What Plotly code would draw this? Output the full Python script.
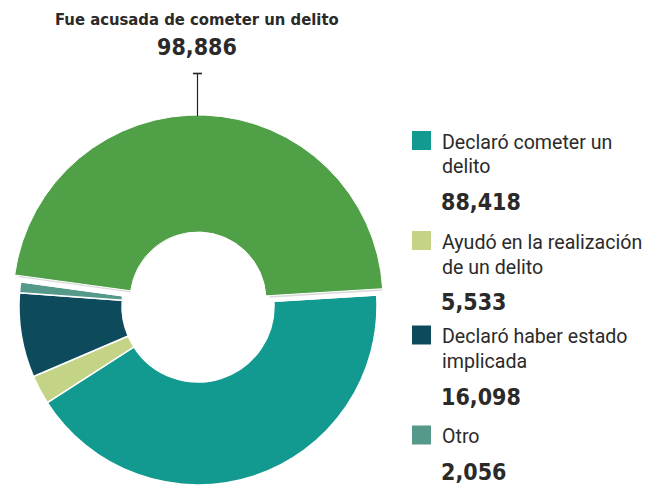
import plotly.graph_objects as go

# page body has an 8px margin: build figure so it fits the 652x485 window
OFF = 8
FW, FH = 652 - OFF, 485 - OFF

# ---- data ----
categories = ["Declaró cometer un delito",
              "Ayudó en la realización de un delito",
              "Declaró haber estado implicada",
              "Otro"]
legend_lines = [["Declaró cometer un", "delito"],
                ["Ayudó en la realización", "de un delito"],
                ["Declaró haber estado", "implicada"],
                ["Otro"]]
values = [88418, 5533, 16098, 2056]
total_label = "Fue acusada de cometer un delito"
total_value = 98886

colors = ["#129A90", "#C3D486", "#0D4A5B", "#55998B"]
green = "#50A048"

TEXT_FONT = "Roboto, DejaVu Sans, sans-serif"
BOLD_FONT = "DejaVu Sans Condensed, DejaVu Sans, sans-serif"
TXT = "#2B2A29"


def px(x):
    return (x - OFF) / FW


def py(y):
    return 1 - (y - OFF) / FH


def dom(cx, cy, r):
    """square domain (window pixel coords) for a pie centred at cx,cy with radius r"""
    return dict(x=[px(cx - r), px(cx + r)], y=[max(0, py(cy + r)), py(cy - r)])


pie_labels = categories + [total_label]
pie_values = values + [total_value]
CLEAR = "rgba(0,0,0,0)"
ROT = 86.5

fig = go.Figure()

# base ring (green slot transparent)
fig.add_trace(go.Pie(
    labels=pie_labels, values=pie_values, sort=False,
    direction="clockwise", rotation=ROT, hole=76 / 179,
    marker=dict(colors=colors + [CLEAR],
                line=dict(color="white", width=1.5)),
    textinfo="none", hoverinfo="skip", showlegend=False,
    domain=dom(198, 306, 179),
))

# shadow under the raised green slice
fig.add_trace(go.Pie(
    labels=pie_labels, values=pie_values, sort=False,
    direction="clockwise", rotation=ROT, hole=70 / 183,
    marker=dict(colors=[CLEAR] * 4 + ["rgba(0,0,0,0.14)"],
                line=dict(width=0)),
    textinfo="none", hoverinfo="skip", showlegend=False,
    domain=dom(200, 302, 183),
))

# raised green slice
fig.add_trace(go.Pie(
    labels=pie_labels, values=pie_values, sort=False,
    direction="clockwise", rotation=ROT, hole=68 / 185,
    marker=dict(colors=[CLEAR] * 4 + [green],
                line=dict(color=[CLEAR] * 4 + ["white"], width=1)),
    textinfo="none", hoverinfo="skip", showlegend=False,
    domain=dom(198, 300, 185),
))

annotations = []
shapes = []

# title + leader line
annotations.append(dict(text="<b>" + total_label + "</b>", x=px(197), y=py(19.5),
                        xref="paper", yref="paper", xanchor="center", yanchor="middle",
                        showarrow=False, font=dict(family=BOLD_FONT, size=16.5, color=TXT)))
annotations.append(dict(text="<b>" + f"{total_value:,}" + "</b>", x=px(197), y=py(47.5),
                        xref="paper", yref="paper", xanchor="center", yanchor="middle",
                        showarrow=False, font=dict(family=BOLD_FONT, size=23, color=TXT)))
shapes.append(dict(type="line", xref="paper", yref="paper",
                   x0=px(197.5), x1=px(197.5), y0=py(73), y1=py(116),
                   line=dict(color="#222", width=1.2)))
shapes.append(dict(type="line", xref="paper", yref="paper",
                   x0=px(193), x1=px(202), y0=py(73.5), y1=py(73.5),
                   line=dict(color="#222", width=1.6)))

# custom legend
square_centers = [140.5, 240.5, 335, 435]
for cat_lines, val, col, sc in zip(legend_lines, values, colors, square_centers):
    shapes.append(dict(type="rect", xref="paper", yref="paper",
                       x0=px(412), x1=px(431), y0=py(sc + 9.5), y1=py(sc - 9.5),
                       fillcolor=col, line=dict(width=0)))
    yline = sc + 1.5
    for i, line in enumerate(cat_lines):
        annotations.append(dict(text=line, x=px(440), y=py(yline + 25 * i),
                                xref="paper", yref="paper", xanchor="left", yanchor="middle",
                                showarrow=False, font=dict(family=TEXT_FONT, size=19.6, color=TXT)))
    ynum = yline + 25 * (len(cat_lines) - 1) + 35
    annotations.append(dict(text="<b>" + f"{val:,}" + "</b>", x=px(439), y=py(ynum),
                            xref="paper", yref="paper", xanchor="left", yanchor="middle",
                            showarrow=False, font=dict(family=BOLD_FONT, size=23, color=TXT)))

fig.update_layout(
    width=FW, height=FH,
    margin=dict(l=0, r=0, t=0, b=0),
    paper_bgcolor="white", plot_bgcolor="white",
    showlegend=False,
    annotations=annotations, shapes=shapes,
)

fig.write_html("out.html")
